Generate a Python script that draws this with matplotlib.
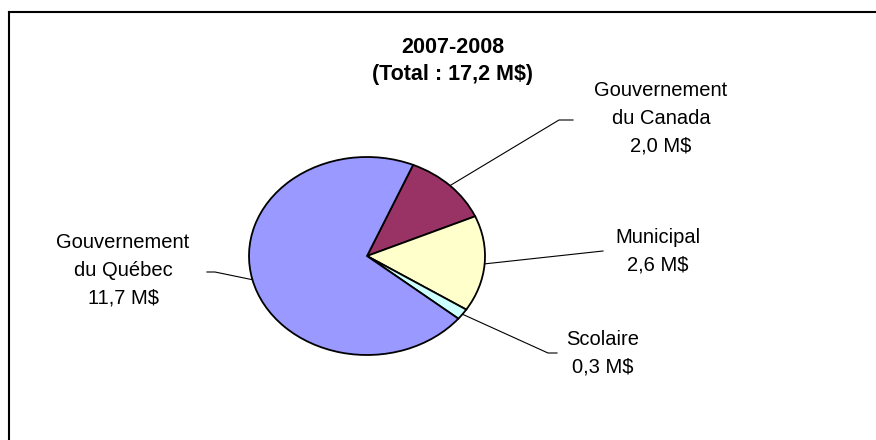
import numpy as np
import matplotlib.pyplot as plt

# Données (M$) dans l'ordre de tracé, sens horaire
categories = ["Gouvernement\ndu Canada", "Municipal", "Scolaire", "Gouvernement\ndu Québec"]
valeurs = [2.0, 2.6, 0.3, 11.7]
etiquettes_valeurs = ["2,0 M$", "2,6 M$", "0,3 M$", "11,7 M$"]
couleurs = ["#993366", "#FFFFCC", "#CCFFFF", "#9999FF"]
titre = "2007-2008\n(Total : 17,2 M$)"

W, H = 876, 440
cx, cy, rx, ry = 367, 256, 118, 99   # centre et rayons de l'ellipse (pixels)

fig = plt.figure(figsize=(W / 100, H / 100), dpi=100)
fig.patch.set_facecolor("white")

# Calque plein cadre en pixels pour le texte, le cadre et les traits de rappel
over = fig.add_axes([0, 0, 1, 1])
over.set_xlim(0, W)
over.set_ylim(H, 0)
over.axis("off")

# Camembert elliptique
ax = fig.add_axes([(cx - rx) / W, (H - cy - ry) / H, 2 * rx / W, 2 * ry / H])
wedges, _ = ax.pie(valeurs, colors=couleurs, startangle=67, counterclock=False,
                   wedgeprops=dict(edgecolor="black", linewidth=1.3))
for w in wedges:
    w.set_clip_on(False)
ax.set_aspect("auto")
ax.set_xlim(-1, 1)
ax.set_ylim(-1, 1)
ax.axis("off")

# Cadre du graphique (Excel)
over.plot([8.5, W], [12.5, 12.5], color="black", lw=1.5)
over.plot([8.5, 8.5], [12.5, H], color="black", lw=1.5)

police = "Liberation Sans"
over.text(453, 61, titre, ha="center", va="center", fontsize=15.5, fontweight="bold",
          family=police, linespacing=1.38)

# Positions des étiquettes et coudes des traits de rappel
pos_textes = [(661, 118), (658, 251), (603, 353), (123, 270)]
coudes = [[(559, 120), (573, 120)], [(603, 251)], [(548, 353), (557, 353)], [(215, 272), (207, 272)]]

for w, cat, val, (tx, ty), pts in zip(wedges, categories, etiquettes_valeurs, pos_textes, coudes):
    a = np.deg2rad((w.theta1 + w.theta2) / 2)
    x0 = cx + rx * np.cos(a)
    y0 = cy - ry * np.sin(a)
    xs = [x0] + [p[0] for p in pts]
    ys = [y0] + [p[1] for p in pts]
    over.plot(xs, ys, color="black", lw=0.8)
    over.text(tx, ty, cat + "\n" + val, ha="center", va="center", fontsize=14.5,
              family=police, linespacing=1.57)

fig.savefig("out.png", dpi=100)
